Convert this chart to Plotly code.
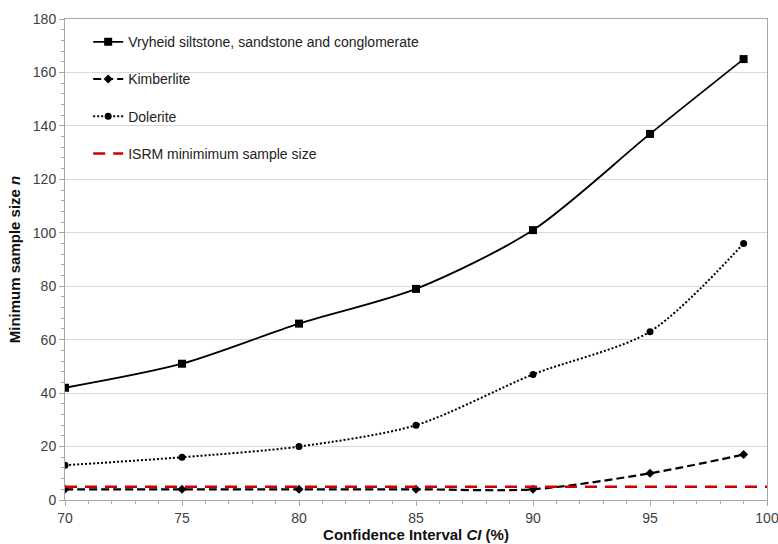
import plotly.graph_objects as go

# Confidence interval levels (%)
ci_levels = [70, 75, 80, 85, 90, 95, 99]

# Minimum sample size n for each rock type
vryheid = [42, 51, 66, 79, 101, 137, 165]
kimberlite = [4, 4, 4, 4, 4, 10, 17]
dolerite = [13, 16, 20, 28, 47, 63, 96]

# ISRM suggested minimum sample size
isrm_x = [70, 100]
isrm_n = [5, 5]

fig = go.Figure()

fig.add_trace(go.Scatter(
    x=ci_levels, y=vryheid, mode="lines+markers",
    name="Vryheid siltstone, sandstone and conglomerate",
    line=dict(color="black", width=1.8, shape="spline", smoothing=0.8),
    marker=dict(symbol="square", size=8, color="black"),
    legendgroup="a",
))
fig.add_trace(go.Scatter(
    x=ci_levels, y=kimberlite, mode="lines+markers",
    name="Kimberlite",
    line=dict(color="black", width=2.2, dash="8px,4px", shape="spline", smoothing=0.8),
    marker=dict(symbol="diamond", size=7, color="black"),
    legendgroup="b",
))
fig.add_trace(go.Scatter(
    x=ci_levels, y=dolerite, mode="lines+markers",
    name="Dolerite",
    line=dict(color="black", width=2, dash="2px,2px", shape="spline", smoothing=0.8),
    marker=dict(symbol="circle", size=7, color="black"),
    legendgroup="c",
))
fig.add_trace(go.Scatter(
    x=isrm_x, y=isrm_n, mode="lines",
    name="ISRM minimimum sample size",
    line=dict(color="#d00000", width=2.5, dash="12px,8px"),
    legendgroup="d",
))

font_family = "Liberation Sans, Arial, sans-serif"
axis_font = dict(family=font_family, size=14, color="#404040")
title_font = dict(family=font_family, size=15, color="#111111")

fig.update_layout(
    width=778, height=544,
    margin=dict(l=65, r=11, t=19, b=44, autoexpand=False),
    paper_bgcolor="white", plot_bgcolor="white",
    font=dict(family=font_family, size=14, color="#222222"),
    showlegend=True,
    legend=dict(
        x=0.033, y=0.985, xanchor="left", yanchor="top",
        bgcolor="rgba(0,0,0,0)", font=dict(family=font_family, size=14, color="#222222"),
        tracegroupgap=16, itemwidth=30,
    ),
    xaxis=dict(
        range=[70, 100], tickmode="array", tickvals=[70, 75, 80, 85, 90, 95, 100],
        showgrid=False, zeroline=False, automargin=False,
        ticklabeloverflow="allow",
        showline=True, linecolor="#a6a6a6", linewidth=1, mirror=True,
        ticks="outside", ticklen=5, tickcolor="#a6a6a6",
        minor=dict(dtick=1, ticks="outside", ticklen=3, tickcolor="#a6a6a6", showgrid=False),
        tickfont=axis_font,
        title=dict(text="<b>Confidence Interval <i>CI</i> (%)</b>",
                   font=title_font, standoff=4),
    ),
    yaxis=dict(
        range=[0, 180], dtick=20,
        showgrid=True, gridcolor="#d9d9d9", gridwidth=1, zeroline=False, automargin=False,
        showline=True, linecolor="#a6a6a6", linewidth=1, mirror=True,
        ticks="outside", ticklen=5, tickcolor="#a6a6a6",
        minor=dict(dtick=4, ticks="outside", ticklen=3, tickcolor="#a6a6a6", showgrid=False),
        tickfont=axis_font,
        title=dict(text="<b>Minimum sample size <i>n</i></b>",
                   font=title_font, standoff=8),
    ),
)

fig.write_html("out.html")
